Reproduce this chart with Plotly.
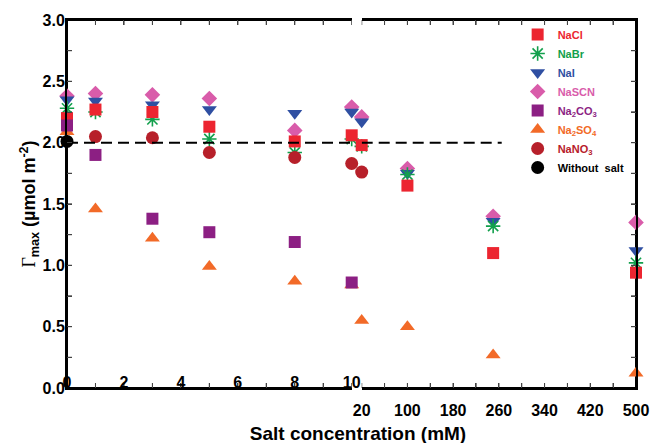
import plotly.graph_objects as go

# ---- data ----
conc_low = [0, 1, 3, 5, 8, 10]          # mM, left (linear) segment
conc_high = [20, 100, 250, 500]         # mM, right segment

nacl_low = [2.20, 2.27, 2.25, 2.13, 2.01, 2.06]
nacl_high = [1.98, 1.65, 1.10, 0.94]
nabr_low = [2.28, 2.25, 2.19, 2.03, 1.92, 2.03]
nabr_high = [1.97, 1.74, 1.32, 1.02]
nai_low = [2.35, 2.34, 2.31, 2.27, 2.24, 2.25]
nai_high = [2.17, 1.75, 1.36, 1.12]
nascn_low = [2.38, 2.40, 2.39, 2.36, 2.10, 2.29]
nascn_high = [2.21, 1.79, 1.40, 1.35]
na2co3_low = [2.14, 1.90, 1.38, 1.27, 1.19, 0.86]
na2co3_high = [None, None, None, None]
na2so4_low = [2.09, 1.46, 1.22, 0.99, 0.87, 0.84]
na2so4_high = [0.55, 0.50, 0.27, 0.12]
nano3_low = [None, 2.05, 2.04, 1.92, 1.88, 1.83]
nano3_high = [1.76, None, None, None]
nosalt_low = [2.01, None, None, None, None, None]
nosalt_high = [None, None, None, None]

ref_level = 2.0
ref_low_x = [0, 10]
ref_high_x = [20, 265]

x_low_range = [0, 10]
x_high_range = [20, 500]
y_range = [0, 3]

y_ticks = [i * 0.25 for i in range(13)]
y_ticktext = [f"<b>{v:.1f}</b>" if i % 2 == 0 else " " for i, v in enumerate(y_ticks)]
xl_ticks = list(range(0, 11))
xl_ticktext = [f"<b>{v}</b>" if v % 2 == 0 else " " for v in xl_ticks]
xh_ticks = list(range(20, 501, 40))
xh_ticktext = [f"<b>{v}</b>" if (v - 20) % 80 == 0 else " " for v in xh_ticks]

# series: (name, label html, color, symbol, size, low, high, legend rank)
series = [
    ("NaSCN", "NaSCN", "#D95CAA", "diamond", 12, nascn_low, nascn_high, 4),
    ("NaI", "NaI", "#2F4FA2", "triangle-down", 13, nai_low, nai_high, 3),
    ("NaBr", "NaBr", "#12A04C", "asterisk-open", 12, nabr_low, nabr_high, 2),
    ("NaCl", "NaCl", "#EC2530", "square", 12, nacl_low, nacl_high, 1),
    ("Na2SO4", "Na<sub>2</sub>SO<sub>4</sub>", "#F26A28", "triangle-up", 13, na2so4_low, na2so4_high, 6),
    ("Na2CO3", "Na<sub>2</sub>CO<sub>3</sub>", "#8C1F83", "square", 12, na2co3_low, na2co3_high, 5),
    ("NaNO3", "NaNO<sub>3</sub>", "#B7202A", "circle", 13, nano3_low, nano3_high, 7),
    ("Without salt", "Without  salt", "#000000", "circle", 13, nosalt_low, nosalt_high, 8),
]

ML, MR, MT, MB = 67, 15, 20, 55
W, H = 651, 443
pw = W - ML - MR
ph = H - MT - MB
d1 = (351.7 - ML) / pw
d2 = (361.7 - ML) / pw

# data units per pixel (used for the tick length of the drawn frame)
ux_low = (x_low_range[1] - x_low_range[0]) / (pw * d1)
ux_high = (x_high_range[1] - x_high_range[0]) / (pw * (1 - d2))
uy = (y_range[1] - y_range[0]) / ph
TL = 5

fig = go.Figure()
frame_style = dict(color="black", width=2)
tick_style = dict(color="black", width=1)


def add_path(xs, ys, xa, ya, style):
    fig.add_trace(go.Scatter(x=xs, y=ys, mode="lines", line=style, showlegend=False,
                             hoverinfo="skip", xaxis=xa, yaxis=ya, cliponaxis=False))


# frame of the left segment
x0, x1 = x_low_range
y0, y1 = y_range
add_path([x1, x0, x0, x1], [y0, y0, y1, y1], "x", "y", frame_style)
tx, ty = [], []
for v in xl_ticks:
    tx += [v, v, None, v, v, None]
    ty += [y0, y0 + TL * uy, None, y1, y1 - TL * uy, None]
for v in y_ticks:
    tx += [x0, x0 + TL * ux_low, None]
    ty += [v, v, None]
add_path(tx, ty, "x", "y", tick_style)

# frame of the right segment
x0, x1 = x_high_range
add_path([x0, x1, x1, x0], [y0, y0, y1, y1], "x2", "y2", frame_style)
tx, ty = [], []
for v in xh_ticks:
    tx += [v, v, None, v, v, None]
    ty += [y0, y0 + TL * uy, None, y1, y1 - TL * uy, None]
for v in y_ticks:
    tx += [x1, x1 - TL * ux_high, None]
    ty += [v, v, None]
add_path(tx, ty, "x2", "y2", tick_style)

# data markers
for name, label, color, symbol, size, low, high, rank in series:
    marker = dict(color=color, symbol=symbol, size=size,
                  line=dict(color=color, width=1.6 if "open" in symbol else 0))
    fig.add_trace(go.Scatter(
        x=conc_low, y=low, mode="markers", marker=marker,
        name=f"<span style='color:{color}'><b>{label}</b></span>",
        legendgroup=name, legendrank=rank, showlegend=True,
        xaxis="x", yaxis="y", cliponaxis=False))
    fig.add_trace(go.Scatter(
        x=conc_high, y=high, mode="markers", marker=marker,
        name=name, legendgroup=name, showlegend=False,
        xaxis="x2", yaxis="y2", cliponaxis=False))

dash_line = dict(color="black", width=2, dash="11px,6px")
add_path(ref_low_x, [ref_level] * 2, "x", "y", dash_line)
add_path(ref_high_x, [ref_level] * 2, "x2", "y2", dash_line)

common_x = dict(showline=True, linecolor="black", linewidth=2, ticks="inside", ticklen=5,
                mirror="ticks", showgrid=False, zeroline=False,
                tickfont=dict(family="Arial", size=16, color="black"), automargin=False)

fig.update_layout(
    template="none",
    width=W, height=H,
    margin=dict(l=ML, r=MR, t=MT, b=MB, autoexpand=False),
    paper_bgcolor="white", plot_bgcolor="rgba(0,0,0,0)",
    font=dict(family="Arial", color="black"),
    title=dict(text="<b>Salt concentration (mM)</b>", x=358 / W, y=1 - 433 / H,
               xref="container", yref="container", xanchor="center", yanchor="middle",
               font=dict(family="Arial", size=19, color="black")),
    xaxis=dict(domain=[0, d1], range=x_low_range, tickmode="array",
               tickvals=xl_ticks, ticktext=xl_ticktext,
               ticklabelposition="inside", ticklabeloverflow="allow",
               ticklabelstandoff=-8, anchor="y", **common_x),
    xaxis2=dict(domain=[d2, 1], range=x_high_range, tickmode="array",
                tickvals=xh_ticks, ticktext=xh_ticktext, ticklabelstandoff=7,
                anchor="y2", **common_x),
    yaxis=dict(range=y_range, tickmode="array", tickvals=y_ticks, ticktext=y_ticktext,
               showline=True, linecolor="black", linewidth=2, ticks="inside", ticklen=5,
               showgrid=False, zeroline=False, ticklabelstandoff=-3,
               tickfont=dict(family="Arial", size=16, color="black"),
               title=dict(text="<span style='font-family:Liberation Serif'>Γ</span><b><sub>max</sub> (µmol m<sup>-2</sup>)</b>",
                          font=dict(family="Arial", size=18, color="black"), standoff=2),
               anchor="x", automargin=False),
    yaxis2=dict(range=y_range, tickmode="array", tickvals=y_ticks, showticklabels=False,
                showline=True, linecolor="black", linewidth=2, ticks="inside", ticklen=5,
                showgrid=False, zeroline=False, anchor="x2", side="right",
                automargin=False),
    legend=dict(x=0.792, y=1.0, xanchor="left", yanchor="top",
                bgcolor="rgba(0,0,0,0)", font=dict(family="Arial", size=11),
                tracegroupgap=0, itemwidth=30),
    showlegend=True,
)

post = """
document.body.style.margin='0';
setTimeout(function(){
  var d=document.createElement('div');
  d.style.cssText='position:fixed;left:0;top:0;width:1px;height:1px;pointer-events:none;';
  document.body.appendChild(d);
}, 300);
"""
fig.write_html("out.html", config={"displayModeBar": False}, post_script=post)
